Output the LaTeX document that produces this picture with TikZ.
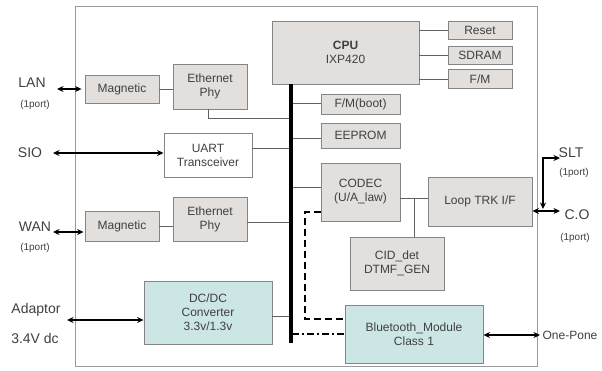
\documentclass[tikz,border=0pt]{standalone}
\usepackage{fontspec}
\setmainfont{Liberation Sans}
\usetikzlibrary{arrows.meta}
\definecolor{boxfill}{HTML}{E2DFDD}
\definecolor{cyanfill}{HTML}{CCE6E6}
\definecolor{boxline}{HTML}{858585}
\definecolor{lineclr}{HTML}{606060}
\definecolor{frameclr}{HTML}{9A9A9A}
\definecolor{txt}{HTML}{404040}
\begin{document}
\begin{tikzpicture}[x=1pt,y=-1pt,
  blk/.style={draw=boxline,fill=boxfill,line width=0.9pt,inner sep=0pt,align=center,
    font=\fontsize{12}{14}\selectfont,text=txt},
  cblk/.style={blk,fill=cyanfill},
  wblk/.style={blk,fill=white},
  conn/.style={draw=lineclr,line width=0.8pt},
  bus/.style={draw=black,line width=4.5pt},
  bi/.style={{Stealth[length=6.5pt,width=6pt]}-{Stealth[length=6.5pt,width=6pt]},line width=1.6pt,draw=black},
  lbl/.style={inner sep=0pt,text=txt,font=\fontsize{14}{16}\selectfont},
  sml/.style={inner sep=0pt,text=txt,font=\fontsize{10}{12}\selectfont},
  dashA/.style={draw=black,line width=1.8pt,dash pattern=on 7pt off 4pt},
  dashB/.style={draw=black,line width=1.8pt,dash pattern=on 7pt off 3pt on 2pt off 3pt}]
\useasboundingbox (0,0) rectangle (602,370);
\fill[white] (0,0) rectangle (602,370);
% outer frame
\draw[frameclr,line width=0.9pt] (75,6) rectangle (537,366);

% blocks
\node[blk,minimum width=147pt,minimum height=63pt] (cpu) at (345.5,52.5) {\textbf{CPU}\\IXP420};
\node[blk,minimum width=64pt,minimum height=18pt] (reset) at (480,30) {Reset};
\node[blk,minimum width=64pt,minimum height=18pt] (sdram) at (480,55) {SDRAM};
\node[blk,minimum width=64pt,minimum height=19pt] (fm) at (480,79) {F/M};
\node[blk,minimum width=74pt,minimum height=28pt] (mag1) at (122,89) {Magnetic};
\node[blk,minimum width=74pt,minimum height=45pt] (phy1) at (210,86.5) {Ethernet\\Phy};
\node[wblk,minimum width=88pt,minimum height=44pt] (uart) at (208,155) {UART\\Transceiver};
\node[blk,minimum width=79pt,minimum height=20pt] (fmboot) at (360.5,104) {F/M(boot)};
\node[blk,minimum width=79pt,minimum height=25pt] (eeprom) at (360.5,135.5) {EEPROM};
\node[blk,minimum width=79pt,minimum height=58pt] (codec) at (360.5,192) {CODEC\\(U/A\_law)};
\node[blk,minimum width=104pt,minimum height=49pt] (loop) at (480,201.5) {Loop TRK I/F};
\node[blk,minimum width=94pt,minimum height=53pt] (cid) at (397,263.5) {CID\_det\\DTMF\_GEN};
\node[cblk,minimum width=138pt,minimum height=58pt] (bt) at (414,334) {Bluetooth\_Module\\Class 1};
\node[cblk,minimum width=128pt,minimum height=63pt] (dcdc) at (208,312.5) {DC/DC\\Converter\\3.3v/1.3v};
\node[blk,minimum width=74pt,minimum height=30pt] (mag2) at (122,226) {Magnetic};
\node[blk,minimum width=74pt,minimum height=44pt] (phy2) at (210,219) {Ethernet\\Phy};

% bus
\coordinate (bus0) at (291,84);
\coordinate (bus1) at (291,343);
\coordinate (bA) at (291,118);
\coordinate (bB) at (291,148);
\coordinate (bC) at (291,103);
\coordinate (bD) at (291,138);
\coordinate (bE) at (291,187);
\coordinate (bF) at (291,222);
\coordinate (bG) at (291,316);

% connectors
\draw[conn] (cpu.east |- reset) -- (reset.west);
\draw[conn] (cpu.east |- sdram) -- (sdram.west);
\draw[conn] (cpu.east |- fm) -- (fm.west);
\draw[conn] (mag1.east) -- (mag1.east -| phy1.west);
\draw[conn] ([xshift=-2pt]phy1.south) |- (bA);
\draw[conn] (uart.east |- bB) -- (bB);
\draw[conn] (bC) -- (bC -| fmboot.west);
\draw[conn] (bD) -- (bD -| eeprom.west);
\draw[conn] (bE) -- (bE -| codec.west);
\draw[conn] (mag2.east) -- (mag2.east -| phy2.west);
\draw[conn] (phy2.east |- bF) -- (bF);
\draw[conn] (dcdc.east |- bG) -- (bG);
\coordinate (cj) at (414,198);
\draw[conn] (codec.east |- cj) -- (loop.west |- cj);
\draw[conn] (cj) -- (cj |- cid.north);

\draw[bus] (bus0) -- (bus1);

% dashed links
\coordinate (d1) at (305,212);
\coordinate (d2) at (305,319);
\coordinate (d3) at (292,334);
\draw[dashA] (codec.west |- d1) -- (d1) -- (d2) -- (d2 -| bt.west);
\draw[dashB] (d3) -- (bt.west);

% external arrows
\coordinate (lanE) at (57,89);
\coordinate (sioE) at (53,153);
\coordinate (wanE) at (53,232);
\coordinate (adE) at (67,320);
\coordinate (opE) at (540,335);
\coordinate (coE) at (560,211);
\coordinate (s1) at (543,209);
\coordinate (s2) at (560,158);
\draw[bi] (lanE) -- ([xshift=-3pt]mag1.west);
\draw[bi] (sioE) -- (uart.west |- sioE);
\draw[bi] (wanE) -- ([xshift=-1pt]mag2.west |- wanE);
\draw[bi] (adE) -- (dcdc.west |- adE);
\draw[bi] (bt.east |- opE) -- (opE);
\draw[bi] (loop.east |- coE) -- (coE);
\draw[bi] (s1) |- (s2);

% labels
\node[lbl] (lan) at (32,83) {LAN};
\node[sml] (lanp) at (35,105) {(1port)};
\node[lbl] (sio) at (30,153) {SIO};
\node[lbl] (wan) at (35,227) {WAN};
\node[sml] (wanp) at (35,248) {(1port)};
\node[lbl] (adap) at (36,310) {Adaptor};
\node[lbl] (volt) at (35,338) {3.4V dc};
\node[lbl] (slt) at (571,153) {SLT};
\node[sml] (sltp) at (574,173) {(1port)};
\node[lbl] (co) at (577,215) {C.O};
\node[sml] (cop) at (575,238) {(1port)};
\node[inner sep=0pt,text=txt,font=\fontsize{12}{14}\selectfont] (op) at (570,335) {One-Pone};
\end{tikzpicture}
\end{document}
